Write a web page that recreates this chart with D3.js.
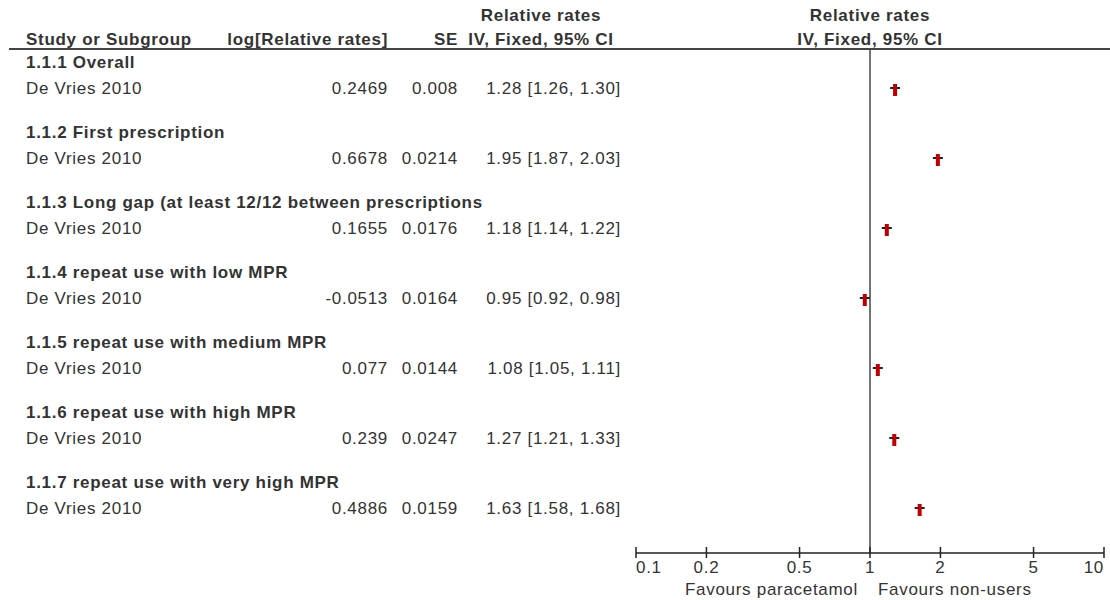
<!DOCTYPE html>
<html>
<head>
<meta charset="utf-8">
<script src="https://cdn.jsdelivr.net/npm/d3@7"></script>
<style>
  body { margin: 0; background: #fff; }
  svg text { font-family: "Liberation Sans", Arial, sans-serif; fill: #333; letter-spacing: 0.7px; }
</style>
</head>
<body>
<div id="chart"></div>
<script>
// Subgroups and study rows
const subgroups = [
  '1.1.1 Overall',
  '1.1.2 First prescription',
  '1.1.3 Long gap (at least 12/12 between prescriptions',
  '1.1.4 repeat use with low MPR',
  '1.1.5 repeat use with medium MPR',
  '1.1.6 repeat use with high MPR',
  '1.1.7 repeat use with very high MPR'
];
const studies = ['De Vries 2010', 'De Vries 2010', 'De Vries 2010', 'De Vries 2010', 'De Vries 2010', 'De Vries 2010', 'De Vries 2010'];
const logRR = ['0.2469', '0.6678', '0.1655', '-0.0513', '0.077', '0.239', '0.4886'];
const se = ['0.008', '0.0214', '0.0176', '0.0164', '0.0144', '0.0247', '0.0159'];
const rr = [1.28, 1.95, 1.18, 0.95, 1.08, 1.27, 1.63];
const lower = [1.26, 1.87, 1.14, 0.92, 1.05, 1.21, 1.58];
const upper = [1.30, 2.03, 1.22, 0.98, 1.11, 1.33, 1.68];
const ticks = [0.1, 0.2, 0.5, 1, 2, 5, 10];

const width = 1110;
const height = 600;
const fmt = d3.format('.2f');
const fs = '17px';

const svg = d3.select('#chart')
  .append('svg')
  .attr('width', width)
  .attr('height', height);

// log scale for the forest plot
const xScale = d3.scaleLog()
  .domain([0.1, 10])
  .range([636, 1104]);

// one band per subgroup: header row then study row
const yScale = d3.scaleLinear()
  .domain([0, 1])
  .range([62, 132]);

const axisY = 553;
const headerLineY = 49;

// column headers
const head = svg.append('g').style('font-weight', 'bold').style('font-size', fs);
head.append('text').attr('x', 26).attr('y', 45).text('Study or Subgroup');
head.append('text').attr('x', 388).attr('y', 45).attr('text-anchor', 'end').text('log[Relative rates]');
head.append('text').attr('x', 458).attr('y', 45).attr('text-anchor', 'end').text('SE');
head.append('text').attr('x', 541).attr('y', 21).attr('text-anchor', 'middle').text('Relative rates');
head.append('text').attr('x', 541).attr('y', 45).attr('text-anchor', 'middle').text('IV, Fixed, 95% CI');
head.append('text').attr('x', 870).attr('y', 21).attr('text-anchor', 'middle').text('Relative rates');
head.append('text').attr('x', 870).attr('y', 45).attr('text-anchor', 'middle').text('IV, Fixed, 95% CI');

svg.append('line')
  .attr('x1', 9).attr('x2', width)
  .attr('y1', headerLineY).attr('y2', headerLineY)
  .attr('stroke', '#444').attr('stroke-width', 2);

// line of no effect
svg.append('line')
  .attr('x1', xScale(1)).attr('x2', xScale(1))
  .attr('y1', headerLineY).attr('y2', axisY)
  .attr('stroke', '#444').attr('stroke-width', 1.5);

const rows = svg.append('g').style('font-size', fs);

subgroups.forEach((g, i) => {
  const yh = yScale(i);
  const yd = yh + 26;
  rows.append('text').attr('x', 26).attr('y', yh + 6).style('font-weight', 'bold').text(g);
  rows.append('text').attr('x', 26).attr('y', yd + 6).text(studies[i]);
  rows.append('text').attr('x', 388).attr('y', yd + 6).attr('text-anchor', 'end').text(logRR[i]);
  rows.append('text').attr('x', 458).attr('y', yd + 6).attr('text-anchor', 'end').text(se[i]);
  rows.append('text').attr('x', 621).attr('y', yd + 6).attr('text-anchor', 'end')
    .text(`${fmt(rr[i])} [${fmt(lower[i])}, ${fmt(upper[i])}]`);
});

// CI lines and point estimates
const marks = svg.append('g');
marks.selectAll('line.ci')
  .data(rr)
  .join('line')
  .attr('class', 'ci')
  .attr('x1', (d, i) => Math.min(xScale(lower[i]), xScale(d) - 5))
  .attr('x2', (d, i) => Math.max(xScale(upper[i]), xScale(d) + 5))
  .attr('y1', (d, i) => yScale(i) + 26)
  .attr('y2', (d, i) => yScale(i) + 26)
  .attr('stroke', '#222').attr('stroke-width', 2);

marks.selectAll('rect.pt')
  .data(rr)
  .join('rect')
  .attr('class', 'pt')
  .attr('x', (d) => xScale(d) - 2)
  .attr('y', (d, i) => yScale(i) + 26 - 4)
  .attr('width', 4)
  .attr('height', 12)
  .attr('fill', '#c00000');

// bottom axis
const axis = svg.append('g').attr('stroke', '#222');
axis.append('line')
  .attr('x1', xScale(0.1)).attr('x2', xScale(10))
  .attr('y1', axisY).attr('y2', axisY)
  .attr('stroke-width', 1.5);
axis.selectAll('line.tick')
  .data(ticks)
  .join('line')
  .attr('class', 'tick')
  .attr('x1', (d) => xScale(d)).attr('x2', (d) => xScale(d))
  .attr('y1', axisY - 6).attr('y2', axisY + 5)
  .attr('stroke-width', 1.5);

svg.append('g').style('font-size', fs)
  .selectAll('text')
  .data(ticks)
  .join('text')
  .attr('x', (d) => xScale(d))
  .attr('y', axisY + 20)
  .attr('text-anchor', (d, i) => i === 0 ? 'start' : i === ticks.length - 1 ? 'end' : 'middle')
  .text((d) => d);

svg.append('text').attr('x', xScale(1) - 12).attr('y', 595)
  .attr('text-anchor', 'end').style('font-size', fs).text('Favours paracetamol');
svg.append('text').attr('x', xScale(1) + 8).attr('y', 595)
  .attr('text-anchor', 'start').style('font-size', fs).text('Favours non-users');
</script>
</body>
</html>
